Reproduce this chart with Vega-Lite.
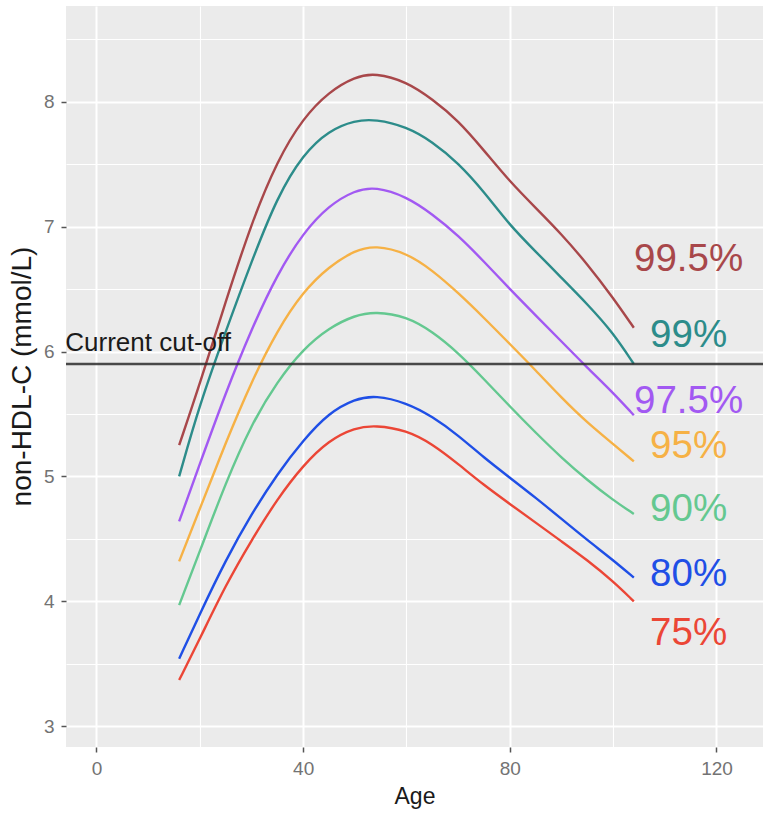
{
  "$schema": "https://vega.github.io/schema/vega-lite/v6.json",
  "width": 697,
  "height": 741,
  "autosize": {"type": "none"},
  "padding": {"left": 66, "top": 6, "right": 0, "bottom": 67},
  "background": "white",
  "config": {
    "view": {"fill": "#EBEBEB", "stroke": null},
    "font": "Liberation Sans"
  },
  "datasets": {
    "curves": [
      {"pct":"99.5%","age":16,"v":5.25},{"pct":"99.5%","age":20,"v":5.74},{"pct":"99.5%","age":25,"v":6.40},{"pct":"99.5%","age":30,"v":7.03},{"pct":"99.5%","age":35,"v":7.53},{"pct":"99.5%","age":40,"v":7.87},{"pct":"99.5%","age":45,"v":8.08},{"pct":"99.5%","age":50,"v":8.20},{"pct":"99.5%","age":54,"v":8.23},{"pct":"99.5%","age":60,"v":8.16},{"pct":"99.5%","age":65,"v":8.02},{"pct":"99.5%","age":70,"v":7.85},{"pct":"99.5%","age":75,"v":7.61},{"pct":"99.5%","age":80,"v":7.36},{"pct":"99.5%","age":85,"v":7.15},{"pct":"99.5%","age":90,"v":6.94},{"pct":"99.5%","age":95,"v":6.70},{"pct":"99.5%","age":100,"v":6.43},{"pct":"99.5%","age":104,"v":6.19},
      {"pct":"99%","age":16,"v":5.00},{"pct":"99%","age":20,"v":5.58},{"pct":"99%","age":25,"v":6.16},{"pct":"99%","age":30,"v":6.72},{"pct":"99%","age":35,"v":7.24},{"pct":"99%","age":40,"v":7.58},{"pct":"99%","age":45,"v":7.77},{"pct":"99%","age":50,"v":7.85},{"pct":"99%","age":54,"v":7.86},{"pct":"99%","age":60,"v":7.80},{"pct":"99%","age":65,"v":7.68},{"pct":"99%","age":70,"v":7.51},{"pct":"99%","age":75,"v":7.28},{"pct":"99%","age":80,"v":7.01},{"pct":"99%","age":85,"v":6.80},{"pct":"99%","age":90,"v":6.59},{"pct":"99%","age":95,"v":6.38},{"pct":"99%","age":100,"v":6.15},{"pct":"99%","age":104,"v":5.90},
      {"pct":"97.5%","age":16,"v":4.64},{"pct":"97.5%","age":20,"v":5.10},{"pct":"97.5%","age":25,"v":5.67},{"pct":"97.5%","age":30,"v":6.18},{"pct":"97.5%","age":35,"v":6.62},{"pct":"97.5%","age":40,"v":6.95},{"pct":"97.5%","age":45,"v":7.17},{"pct":"97.5%","age":50,"v":7.29},{"pct":"97.5%","age":54,"v":7.32},{"pct":"97.5%","age":60,"v":7.24},{"pct":"97.5%","age":65,"v":7.10},{"pct":"97.5%","age":70,"v":6.93},{"pct":"97.5%","age":75,"v":6.72},{"pct":"97.5%","age":80,"v":6.50},{"pct":"97.5%","age":85,"v":6.29},{"pct":"97.5%","age":90,"v":6.08},{"pct":"97.5%","age":95,"v":5.87},{"pct":"97.5%","age":100,"v":5.67},{"pct":"97.5%","age":104,"v":5.49},
      {"pct":"95%","age":16,"v":4.32},{"pct":"95%","age":20,"v":4.74},{"pct":"95%","age":25,"v":5.27},{"pct":"95%","age":30,"v":5.76},{"pct":"95%","age":35,"v":6.17},{"pct":"95%","age":40,"v":6.48},{"pct":"95%","age":45,"v":6.68},{"pct":"95%","age":50,"v":6.81},{"pct":"95%","age":54,"v":6.85},{"pct":"95%","age":60,"v":6.79},{"pct":"95%","age":65,"v":6.65},{"pct":"95%","age":70,"v":6.47},{"pct":"95%","age":75,"v":6.27},{"pct":"95%","age":80,"v":6.06},{"pct":"95%","age":85,"v":5.85},{"pct":"95%","age":90,"v":5.63},{"pct":"95%","age":95,"v":5.43},{"pct":"95%","age":100,"v":5.26},{"pct":"95%","age":104,"v":5.12},
      {"pct":"90%","age":16,"v":3.97},{"pct":"90%","age":20,"v":4.40},{"pct":"90%","age":25,"v":4.95},{"pct":"90%","age":30,"v":5.42},{"pct":"90%","age":35,"v":5.76},{"pct":"90%","age":40,"v":6.02},{"pct":"90%","age":45,"v":6.19},{"pct":"90%","age":50,"v":6.29},{"pct":"90%","age":54,"v":6.32},{"pct":"90%","age":60,"v":6.28},{"pct":"90%","age":65,"v":6.16},{"pct":"90%","age":70,"v":5.99},{"pct":"90%","age":75,"v":5.78},{"pct":"90%","age":80,"v":5.56},{"pct":"90%","age":85,"v":5.35},{"pct":"90%","age":90,"v":5.15},{"pct":"90%","age":95,"v":4.97},{"pct":"90%","age":100,"v":4.81},{"pct":"90%","age":104,"v":4.70},
      {"pct":"80%","age":16,"v":3.54},{"pct":"80%","age":20,"v":3.90},{"pct":"80%","age":25,"v":4.33},{"pct":"80%","age":30,"v":4.70},{"pct":"80%","age":35,"v":5.02},{"pct":"80%","age":40,"v":5.29},{"pct":"80%","age":45,"v":5.51},{"pct":"80%","age":50,"v":5.62},{"pct":"80%","age":54,"v":5.65},{"pct":"80%","age":60,"v":5.59},{"pct":"80%","age":65,"v":5.48},{"pct":"80%","age":70,"v":5.33},{"pct":"80%","age":75,"v":5.15},{"pct":"80%","age":80,"v":4.99},{"pct":"80%","age":85,"v":4.83},{"pct":"80%","age":90,"v":4.66},{"pct":"80%","age":95,"v":4.49},{"pct":"80%","age":100,"v":4.33},{"pct":"80%","age":104,"v":4.19},
      {"pct":"75%","age":16,"v":3.37},{"pct":"75%","age":20,"v":3.70},{"pct":"75%","age":25,"v":4.13},{"pct":"75%","age":30,"v":4.49},{"pct":"75%","age":35,"v":4.82},{"pct":"75%","age":40,"v":5.09},{"pct":"75%","age":45,"v":5.29},{"pct":"75%","age":50,"v":5.39},{"pct":"75%","age":54,"v":5.41},{"pct":"75%","age":60,"v":5.37},{"pct":"75%","age":65,"v":5.26},{"pct":"75%","age":70,"v":5.10},{"pct":"75%","age":75,"v":4.93},{"pct":"75%","age":80,"v":4.78},{"pct":"75%","age":85,"v":4.63},{"pct":"75%","age":90,"v":4.48},{"pct":"75%","age":95,"v":4.33},{"pct":"75%","age":100,"v":4.16},{"pct":"75%","age":104,"v":4.00}
    ],
    "labels": [
      {"pct":"99.5%","age":114.6,"v":6.74},
      {"pct":"99%","age":114.6,"v":6.13},
      {"pct":"97.5%","age":114.6,"v":5.60},
      {"pct":"95%","age":114.6,"v":5.24},
      {"pct":"90%","age":114.6,"v":4.74},
      {"pct":"80%","age":114.6,"v":4.22},
      {"pct":"75%","age":114.6,"v":3.75}
    ],
    "cutoff": [{"v":5.9,"age":10,"lv":6.07,"txt":"Current cut-off"}]
  },
  "encoding": {
    "x": {
      "field": "age", "type": "quantitative",
      "scale": {"domain": [-5.9, 129], "nice": false, "zero": false},
      "axis": {
        "title": "Age",
        "values": [0, 20, 40, 60, 80, 100, 120],
        "labelExpr": "datum.value % 40 === 0 ? format(datum.value, 'd') : ''",
        "domain": false,
        "grid": true,
        "gridColor": "white",
        "gridWidth": {"condition": {"test": "datum.value % 40 === 0", "value": 2}, "value": 1.1},
        "tickOpacity": {"condition": {"test": "datum.value % 40 === 0", "value": 1}, "value": 0},
        "tickColor": "#555555",
        "tickSize": 5,
        "tickWidth": 1.5,
        "labelFontSize": 19,
        "labelColor": "#737373",
        "labelPadding": 7,
        "titleFontSize": 23,
        "titleFontWeight": "normal",
        "titleColor": "#1a1a1a",
        "titleX": 348.5,
        "titleY": 49,
        "titleBaseline": "middle",
        "titleAlign": "center"
      }
    },
    "y": {
      "field": "v", "type": "quantitative",
      "scale": {"domain": [2.834, 8.766], "nice": false, "zero": false},
      "axis": {
        "title": "non-HDL-C (mmol/L)",
        "values": [3, 3.5, 4, 4.5, 5, 5.5, 6, 6.5, 7, 7.5, 8, 8.5],
        "labelExpr": "datum.value % 1 === 0 ? format(datum.value, 'd') : ''",
        "domain": false,
        "grid": true,
        "gridColor": "white",
        "gridWidth": {"condition": {"test": "datum.value % 1 === 0", "value": 2}, "value": 1.1},
        "tickOpacity": {"condition": {"test": "datum.value % 1 === 0", "value": 1}, "value": 0},
        "tickColor": "#555555",
        "tickSize": 5,
        "tickWidth": 1.5,
        "labelFontSize": 19,
        "labelColor": "#737373",
        "labelPadding": 7,
        "titleFontSize": 28,
        "titleFontWeight": "normal",
        "titleColor": "#1a1a1a",
        "titleAngle": -90,
        "titleX": -44,
        "titleY": 370,
        "titleBaseline": "middle",
        "titleAlign": "center"
      }
    }
  },
  "layer": [
    {
      "data": {"name": "curves"},
      "mark": {"type": "line", "interpolate": "basis", "strokeWidth": 2.4},
      "encoding": {
        "color": {
          "field": "pct", "type": "nominal", "legend": null,
          "scale": {
            "domain": ["99.5%", "99%", "97.5%", "95%", "90%", "80%", "75%"],
            "range": ["#A8474A", "#2C8C8A", "#A259F2", "#F6B145", "#64C890", "#1F4FE6", "#EB4636"]
          }
        },
        "detail": {"field": "pct"}
      }
    },
    {
      "data": {"name": "cutoff"},
      "mark": {"type": "rule", "color": "#2b2b2b", "strokeWidth": 2.6, "opacity": 0.85},
      "encoding": {"y": {"field": "v", "type": "quantitative"}, "x": null}
    },
    {
      "data": {"name": "cutoff"},
      "mark": {"type": "text", "fontSize": 26, "color": "#1a1a1a", "align": "center", "baseline": "middle"},
      "encoding": {
        "y": {"field": "lv", "type": "quantitative"},
        "text": {"field": "txt"}
      }
    },
    {
      "data": {"name": "labels"},
      "mark": {"type": "text", "fontSize": 38.5, "align": "center", "baseline": "middle"},
      "encoding": {
        "text": {"field": "pct"},
        "color": {"field": "pct", "type": "nominal", "legend": null}
      }
    }
  ]
}
